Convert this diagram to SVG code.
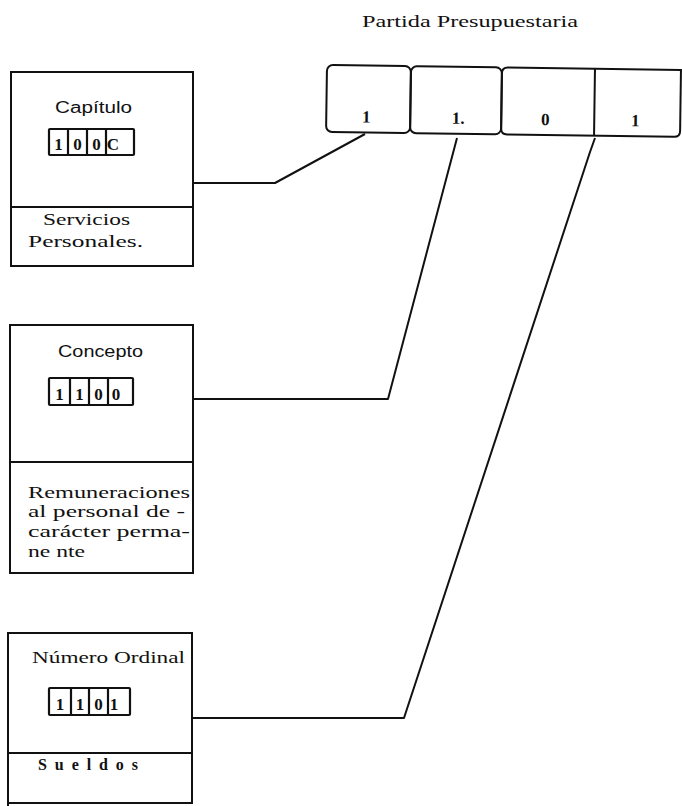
<svg xmlns="http://www.w3.org/2000/svg" width="682" height="806" viewBox="0 0 682 806">
<style>
.box{fill:none;stroke:#111;stroke-width:2}
.mini{fill:none;stroke:#111;stroke-width:2.2}
.conn{fill:none;stroke:#111;stroke-width:2;stroke-linejoin:round}
.t{font-family:"Liberation Serif","DejaVu Serif",serif;font-size:16px;fill:#111}
.s{font-family:"Liberation Sans","DejaVu Sans",sans-serif;font-size:16px;fill:#111}
.d{font-family:"Liberation Serif","DejaVu Serif",serif;font-size:17px;fill:#111;text-anchor:middle;font-weight:bold}
</style>
<rect width="682" height="806" fill="#fff"/>

<g id="title">
<text class="t" x="362" y="27" textLength="216" lengthAdjust="spacingAndGlyphs">Partida Presupuestaria</text>
</g>

<g id="partida" transform="rotate(0.8 327 65)">
<rect class="box" x="327" y="65" width="84" height="67" rx="6"/>
<rect class="box" x="411" y="65" width="91" height="67" rx="6"/>
<path class="box" d="M681 65 H508 Q502 65 502 71 V126 Q502 132 508 132 H675 Q681 132 681 126 Z"/>
<line class="box" x1="595" y1="65" x2="595" y2="132"/>
<text class="d" x="367" y="122">1</text>
<text class="d" x="459" y="122">1.</text>
<text class="d" x="546" y="122">0</text>
<text class="d" x="636" y="122">1</text>
</g>

<g id="capitulo">
<rect class="box" x="11" y="72" width="182" height="194"/>
<line class="box" x1="11" y1="207" x2="193" y2="207"/>
<text class="s" x="55" y="113" textLength="77" lengthAdjust="spacingAndGlyphs">Capítulo</text>
<rect class="mini" x="49" y="129" width="85" height="26" rx="1"/>
<line class="mini" x1="68" y1="129" x2="68" y2="155"/>
<line class="mini" x1="87" y1="129" x2="87" y2="155"/>
<line class="mini" x1="106" y1="129" x2="106" y2="155"/>
<text class="d" x="58.5" y="150">1</text>
<text class="d" x="77.5" y="150" font-weight="normal">0</text>
<text class="d" x="96.5" y="150" font-weight="normal">0</text>
<text class="d" x="113" y="150" font-weight="normal">C</text>
<text class="t" x="43" y="225" textLength="87" lengthAdjust="spacingAndGlyphs">Servicios</text>
<text class="t" x="28" y="247" textLength="115" lengthAdjust="spacingAndGlyphs">Personales.</text>
</g>

<g id="concepto">
<rect class="box" x="10" y="325" width="183" height="248"/>
<line class="box" x1="10" y1="462" x2="193" y2="462"/>
<text class="s" x="58" y="357" textLength="85" lengthAdjust="spacingAndGlyphs">Concepto</text>
<rect class="mini" x="49" y="378" width="84" height="27" rx="1"/>
<line class="mini" x1="70" y1="378" x2="70" y2="405"/>
<line class="mini" x1="89" y1="378" x2="89" y2="405"/>
<line class="mini" x1="108" y1="378" x2="108" y2="405"/>
<text class="d" x="59.5" y="400" font-weight="normal">1</text>
<text class="d" x="79.5" y="400" font-weight="normal">1</text>
<text class="d" x="98.5" y="400" font-weight="normal">0</text>
<text class="d" x="116" y="400" font-weight="normal">0</text>
<text class="t" x="28" y="498" textLength="162" lengthAdjust="spacingAndGlyphs">Remuneraciones</text>
<text class="t" x="28" y="517" textLength="157" lengthAdjust="spacingAndGlyphs">al personal de -</text>
<text class="t" x="28" y="537" textLength="162" lengthAdjust="spacingAndGlyphs">carácter perma-</text>
<text class="t" x="28" y="557" textLength="57" lengthAdjust="spacingAndGlyphs">ne nte</text>
</g>

<g id="numero-ordinal">
<path class="box" d="M8 806 V633 H192 V803 H8"/>
<line class="box" x1="8" y1="753" x2="192" y2="753"/>
<text class="t" x="32" y="663" textLength="153" lengthAdjust="spacingAndGlyphs">Número Ordinal</text>
<rect class="mini" x="49" y="688" width="81" height="27" rx="1"/>
<line class="mini" x1="71" y1="688" x2="71" y2="715"/>
<line class="mini" x1="89" y1="688" x2="89" y2="715"/>
<line class="mini" x1="108" y1="688" x2="108" y2="715"/>
<text class="d" x="60" y="710">1</text>
<text class="d" x="80" y="710">1</text>
<text class="d" x="98.5" y="710" font-weight="normal">0</text>
<text class="d" x="114" y="710">1</text>
<text class="t" x="38" y="770" textLength="100" lengthAdjust="spacing" font-size="17" font-weight="bold">Sueldos</text>
</g>

<g id="connectors">
<polyline class="conn" points="193,183 275,183 365,134"/>
<polyline class="conn" points="193,399 388,399 457,138"/>
<polyline class="conn" points="193,718 404,718 590,152 595,138"/>
</g>
</svg>
